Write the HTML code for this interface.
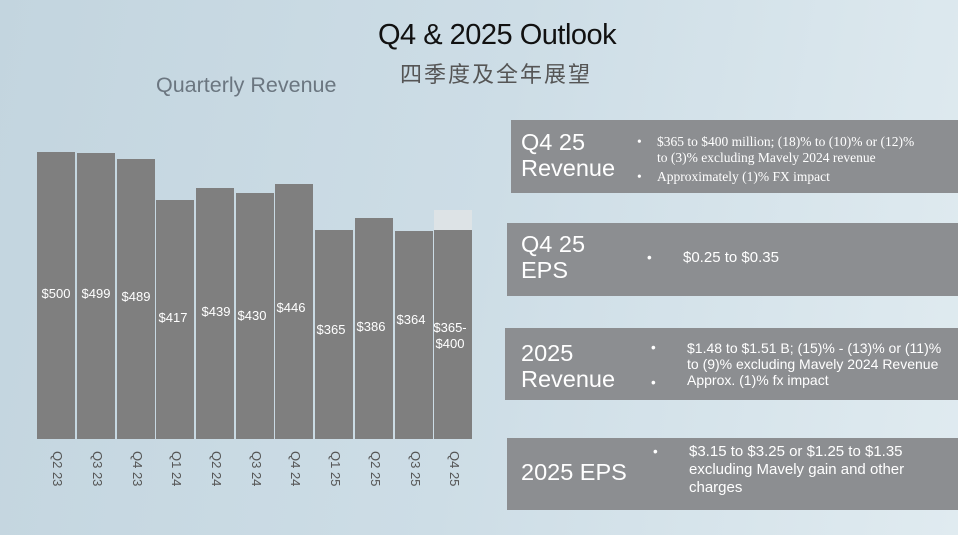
<!DOCTYPE html>
<html><head><meta charset="utf-8"><style>
body{margin:0;width:958px;height:535px;overflow:hidden;position:relative;font-family:"Liberation Sans","Noto Sans CJK SC",sans-serif;background:linear-gradient(100deg,#c3d5df 0%,#cddde6 50%,#e0ebf0 100%);}
div{position:absolute;}
.bar{background:#7f7f7f;}
.v{color:#fff;font-size:13px;width:44px;text-align:center;}
.q{color:#555;font-size:13px;transform:rotate(90deg);transform-origin:left top;white-space:nowrap;}
.box{background:#8c8e91;color:#fff;right:0;}
.h{font-size:23.5px;line-height:26px;}
.t{font-size:13.5px;line-height:16px;}
.s{font-family:"Liberation Serif",serif;font-size:13.5px;line-height:16px;}
</style></head><body>
<div style="left:378px;top:19px;font-size:29px;color:#111;letter-spacing:-0.5px">Q4 &amp; 2025 Outlook</div>
<div style="left:400px;top:57px;font-size:22px;color:#555;letter-spacing:2px">四季度及全年展望</div>
<div style="left:156px;top:73px;font-size:21.5px;color:#6b7680">Quarterly Revenue</div>

<div style="left:434px;top:210px;width:38px;height:20px;background:#dde3e6"></div>
<div class="bar" style="left:37px;top:152px;width:38px;height:287px"></div>
<div class="bar" style="left:77px;top:153px;width:38px;height:286px"></div>
<div class="bar" style="left:117px;top:159px;width:38px;height:280px"></div>
<div class="bar" style="left:156px;top:200px;width:38px;height:239px"></div>
<div class="bar" style="left:196px;top:188px;width:38px;height:251px"></div>
<div class="bar" style="left:236px;top:193px;width:38px;height:246px"></div>
<div class="bar" style="left:275px;top:184px;width:38px;height:255px"></div>
<div class="bar" style="left:315px;top:230px;width:38px;height:209px"></div>
<div class="bar" style="left:355px;top:218px;width:38px;height:221px"></div>
<div class="bar" style="left:395px;top:231px;width:38px;height:208px"></div>
<div class="bar" style="left:434px;top:230px;width:38px;height:209px"></div>

<div class="v" style="left:34px;top:286px">$500</div>
<div class="v" style="left:74px;top:286px">$499</div>
<div class="v" style="left:114px;top:289px">$489</div>
<div class="v" style="left:151px;top:310px">$417</div>
<div class="v" style="left:194px;top:304px">$439</div>
<div class="v" style="left:230px;top:308px">$430</div>
<div class="v" style="left:269px;top:300px">$446</div>
<div class="v" style="left:309px;top:322px">$365</div>
<div class="v" style="left:349px;top:319px">$386</div>
<div class="v" style="left:389px;top:312px">$364</div>
<div class="v" style="left:428px;top:320px;line-height:16px">$365-<br>$400</div>

<div class="q" style="left:65px;top:451px">Q2 23</div>
<div class="q" style="left:105px;top:451px">Q3 23</div>
<div class="q" style="left:145px;top:451px">Q4 23</div>
<div class="q" style="left:184px;top:451px">Q1 24</div>
<div class="q" style="left:224px;top:451px">Q2 24</div>
<div class="q" style="left:264px;top:451px">Q3 24</div>
<div class="q" style="left:303px;top:451px">Q4 24</div>
<div class="q" style="left:343px;top:451px">Q1 25</div>
<div class="q" style="left:383px;top:451px">Q2 25</div>
<div class="q" style="left:423px;top:451px">Q3 25</div>
<div class="q" style="left:462px;top:451px">Q4 25</div>

<div class="box" style="left:511px;top:120px;height:73px">
 <div class="h" style="left:10px;top:9px">Q4 25<br>Revenue</div>
 <div class="s" style="left:126px;top:14px">•&nbsp;&nbsp;</div>
 <div class="s" style="left:146px;top:14px">$365 to $400 million; (18)% to (10)% or (12)%<br>to (3)% excluding Mavely 2024 revenue</div>
 <div class="s" style="left:126px;top:49px">•&nbsp;&nbsp;</div>
 <div class="s" style="left:146px;top:49px">Approximately (1)% FX impact</div>
</div>
<div class="box" style="left:507px;top:223px;height:73px">
 <div class="h" style="left:14px;top:8px">Q4 25<br>EPS</div>
 <div class="t" style="left:140px;top:27px">•</div>
 <div class="t" style="left:176px;top:27px;font-size:15px">$0.25 to $0.35</div>
</div>
<div class="box" style="left:505px;top:328px;height:72px">
 <div class="h" style="left:16px;top:12px">2025<br>Revenue</div>
 <div class="t" style="left:146px;top:12px">•</div>
 <div class="t" style="left:146px;top:47px">•</div>
 <div class="t" style="left:182px;top:12px;font-size:14px">$1.48 to $1.51 B; (15)% - (13)% or (11)%<br>to (9)% excluding Mavely 2024 Revenue<br>Approx. (1)% fx impact</div>
</div>
<div class="box" style="left:507px;top:438px;height:72px">
 <div class="h" style="left:14px;top:21px">2025 EPS</div>
 <div class="t" style="left:146px;top:6px">•</div>
 <div class="t" style="left:182px;top:5px;font-size:15px;line-height:18px">$3.15 to $3.25 or $1.25 to $1.35<br>excluding Mavely gain and other<br>charges</div>
</div>
</body></html>
